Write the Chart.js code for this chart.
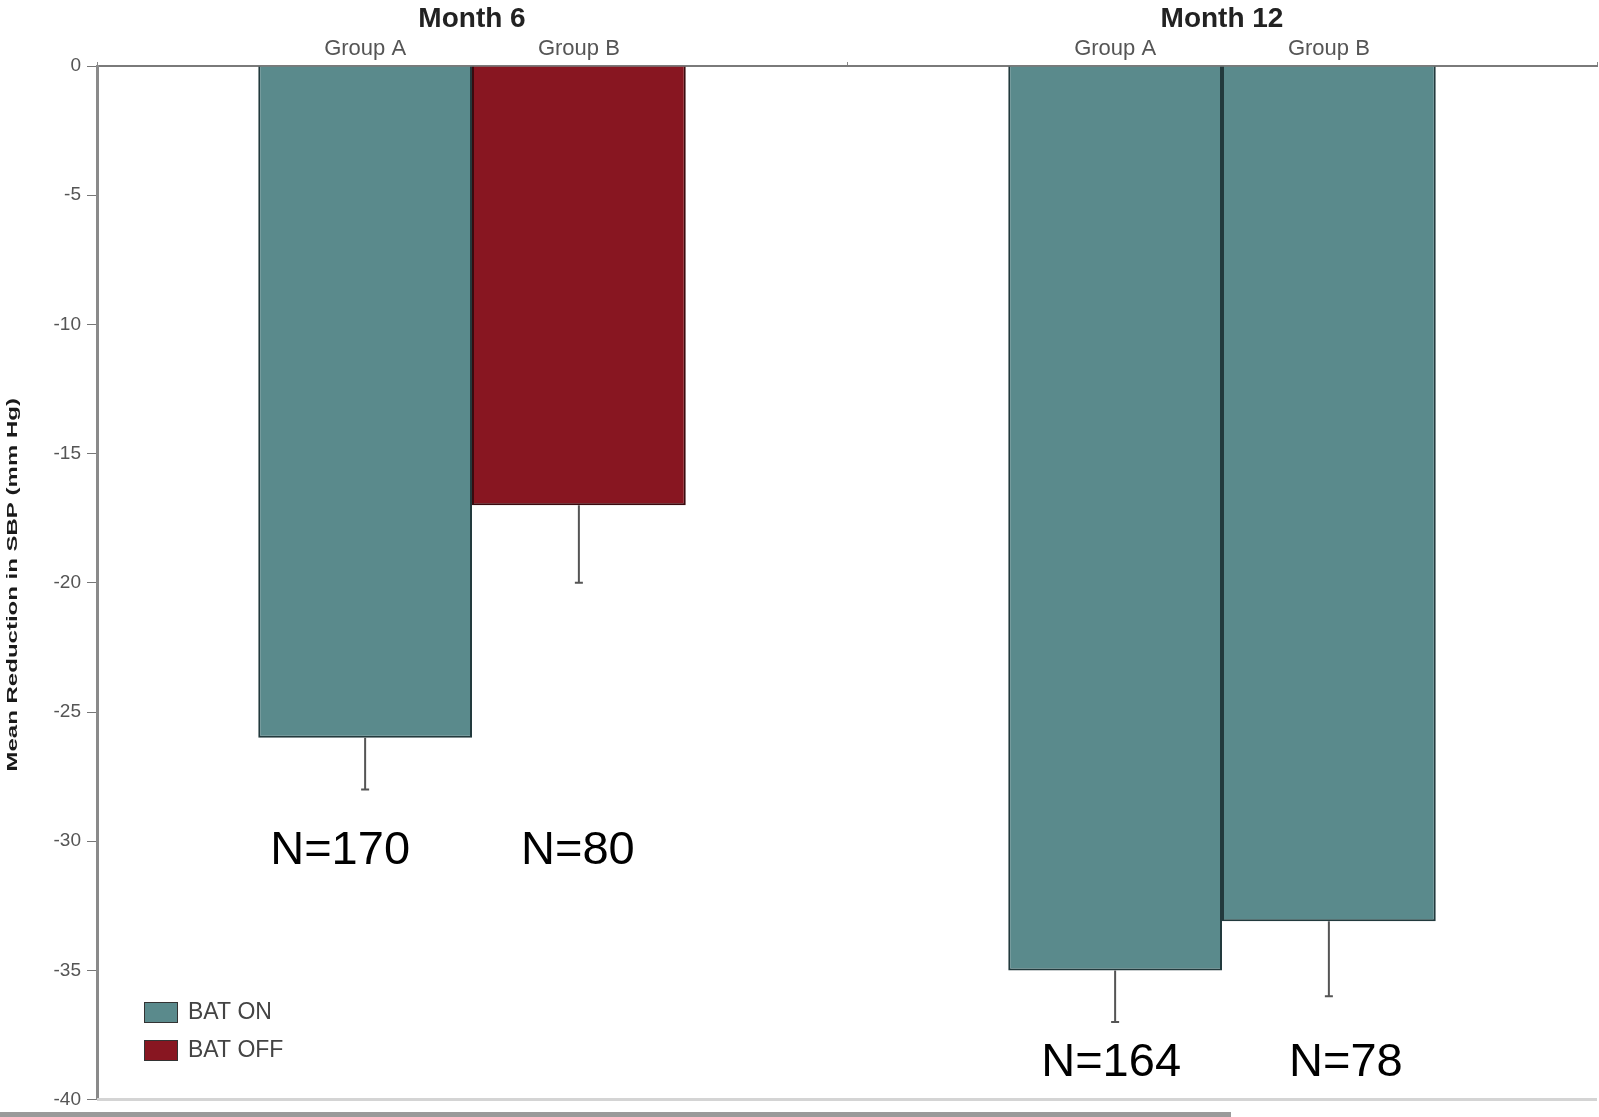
<!DOCTYPE html>
<html>
<head>
<meta charset="utf-8">
<script src="https://cdn.jsdelivr.net/npm/chart.js@4/dist/chart.umd.min.js"></script>
<style>
    body { margin: 0; background: #fff; }
    #wrap { position: relative; width: 1599px; height: 1117px; }
    #strip { position: absolute; left: 0; top: 1112px; width: 1231px; height: 5px; background: #9a9a9a; }
</style>
</head>
<body>
<div id="wrap">
    <canvas id="sbpChart" width="1599" height="1117"></canvas>
    <div id="strip"></div>
</div>
<script>
const months = ['Month 6', 'Month 12'];
const groupNames = ['Group A', 'Group B'];
const groupAValues = [-26, -35];
const groupBValues = [-17, -33.1];
const groupAErrLow = [-28, -37];
const groupBErrLow = [-20, -36];
const groupAN = ['N=170', 'N=164'];
const groupBN = ['N=80', 'N=78'];
const nLabelLevel = [-30.4, -38.6];
const yTicks = [0, -5, -10, -15, -20, -25, -30, -35, -40];

const TEAL = '#5a8a8c';
const RED = '#881621';
const FONT = 'Arial, "Liberation Sans", sans-serif';

// group A is BAT ON in both months, group B is BAT OFF at month 6 only
const groupAColors = [TEAL, TEAL];
const groupBColors = [RED, TEAL];

const errLows = [groupAErrLow, groupBErrLow];
const nLabels = [groupAN, groupBN];
// the N= notes were placed by hand, a little off the bar centres
const nShift = [[-25, -4], [-1, 17]];

const extrasPlugin = {
    id: 'extras',
    afterDatasetsDraw(chart) {
        const ctx = chart.ctx;
        const y = chart.scales.y;
        const area = chart.chartArea;

        // bottom frame line at -40
        ctx.save();
        ctx.strokeStyle = '#d4d4d4';
        ctx.lineWidth = 3;
        ctx.beginPath();
        ctx.moveTo(area.left, y.getPixelForValue(-40));
        ctx.lineTo(area.right, y.getPixelForValue(-40));
        ctx.stroke();

        chart.data.datasets.forEach((ds, di) => {
            const meta = chart.getDatasetMeta(di);
            meta.data.forEach((bar, i) => {
                // error bar
                const yTop = y.getPixelForValue(ds.data[i]);
                const yLow = y.getPixelForValue(errLows[di][i]);
                ctx.strokeStyle = '#555';
                ctx.lineWidth = 2;
                ctx.beginPath();
                ctx.moveTo(bar.x, yTop);
                ctx.lineTo(bar.x, yLow);
                ctx.moveTo(bar.x - 4, yLow);
                ctx.lineTo(bar.x + 4, yLow);
                ctx.stroke();

                // group name above the bar
                ctx.fillStyle = '#555';
                ctx.font = '22px ' + FONT;
                ctx.textAlign = 'center';
                ctx.textBaseline = 'middle';
                ctx.fillText(ds.label, bar.x, 49);

                // sample size
                ctx.fillStyle = '#000';
                ctx.font = '47px ' + FONT;
                ctx.fillText(nLabels[di][i], bar.x + nShift[di][i], y.getPixelForValue(nLabelLevel[i]));
            });
        });

        // legend
        const legendItems = [['BAT ON', TEAL], ['BAT OFF', RED]];
        legendItems.forEach((item, k) => {
            const top = 1002 + k * 38;
            ctx.fillStyle = item[1];
            ctx.fillRect(144, top, 34, 21);
            ctx.strokeStyle = '#333';
            ctx.lineWidth = 1;
            ctx.strokeRect(144.5, top + 0.5, 33, 20);
            ctx.fillStyle = '#444';
            ctx.font = '23px ' + FONT;
            ctx.textAlign = 'left';
            ctx.textBaseline = 'middle';
            ctx.fillText(item[0], 188, top + 11);
        });

        // y axis title, drawn stretched along its length like the original
        ctx.translate(13, (area.top + area.bottom) / 2 + 2);
        ctx.rotate(-Math.PI / 2);
        ctx.scale(1.6, 1);
        ctx.fillStyle = '#1a1a1a';
        ctx.font = 'bold 15px ' + FONT;
        ctx.textAlign = 'center';
        ctx.textBaseline = 'middle';
        ctx.fillText('Mean Reduction in SBP (mm Hg)', 0, 0);
        ctx.restore();
    }
};

const ctx = document.getElementById('sbpChart').getContext('2d');
new Chart(ctx, {
    type: 'bar',
    data: {
        labels: months,
        datasets: [
            {
                label: groupNames[0],
                data: groupAValues,
                backgroundColor: groupAColors,
                borderColor: '#223a3d',
                borderWidth: 2,
                categoryPercentage: 0.57,
                barPercentage: 1
            },
            {
                label: groupNames[1],
                data: groupBValues,
                backgroundColor: groupBColors,
                borderColor: ['#3a0a0e', '#223a3d'],
                borderWidth: 2,
                categoryPercentage: 0.57,
                barPercentage: 1
            }
        ]
    },
    options: {
        responsive: false,
        animation: false,
        layout: { padding: { top: 0, right: 2, bottom: 16, left: 0 } },
        plugins: {
            legend: { display: false },
            tooltip: { enabled: false }
        },
        scales: {
            x: {
                position: 'top',
                afterFit: scale => { scale.height = 66; },
                grid: { drawOnChartArea: false, tickLength: 4, color: '#888' },
                border: { color: '#7a7a7a', width: 2 },
                ticks: {
                    padding: 26,
                    color: '#222',
                    font: { family: FONT, size: 28, weight: 'bold' }
                }
            },
            y: {
                min: -40,
                max: 0,
                afterFit: scale => { scale.width = 97; },
                afterBuildTicks: scale => { scale.ticks = yTicks.map(v => ({ value: v })); },
                grid: { drawOnChartArea: false, tickLength: 10, color: '#777' },
                border: { color: '#8a8a8a', width: 3 },
                ticks: {
                    padding: 6,
                    color: '#555',
                    font: { family: FONT, size: 19 }
                }
            }
        }
    },
    plugins: [extrasPlugin]
});
</script>
</body>
</html>
